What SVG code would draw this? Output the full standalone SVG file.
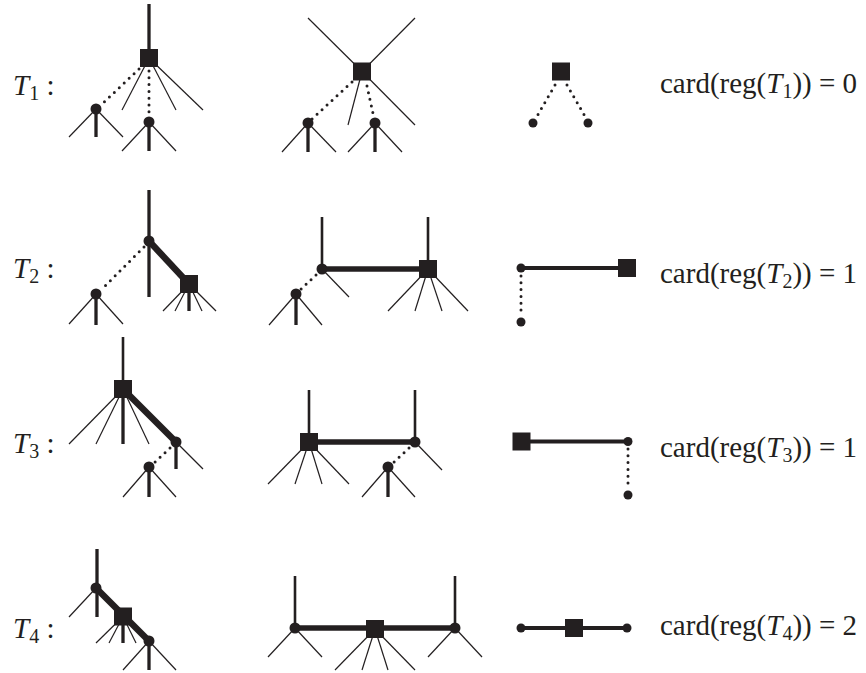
<svg xmlns="http://www.w3.org/2000/svg" width="866" height="673" viewBox="0 0 866 673">
<style>
line{stroke:#231f20;fill:none}
.thin{stroke-width:1.2}
.mid{stroke-width:2.6}
.thick{stroke-width:3.3}
.bar{stroke-width:5.5}
.rbar{stroke-width:4}
.wide{stroke-width:6.5}
.dot{stroke-width:3;stroke-dasharray:0 6.8;stroke-linecap:round}
.n{fill:#231f20}
text{font-family:"Liberation Serif","Times New Roman",serif;font-size:29px;fill:#231f20}
.it{font-style:italic}
.sub{font-size:20px}
</style>
<rect width="866" height="673" fill="#fff"/>
<g id="labels">
<text x="13" y="95"><tspan class="it">T</tspan><tspan class="sub" dy="5">1</tspan><tspan dy="-5"> :</tspan></text>
<text x="13" y="278"><tspan class="it">T</tspan><tspan class="sub" dy="5">2</tspan><tspan dy="-5"> :</tspan></text>
<text x="13" y="453"><tspan class="it">T</tspan><tspan class="sub" dy="5">3</tspan><tspan dy="-5"> :</tspan></text>
<text x="13" y="638"><tspan class="it">T</tspan><tspan class="sub" dy="5">4</tspan><tspan dy="-5"> :</tspan></text>
<text x="660" y="93">card(reg(<tspan class="it">T</tspan><tspan class="sub" dy="5">1</tspan><tspan dy="-5">)) = 0</tspan></text>
<text x="660" y="283">card(reg(<tspan class="it">T</tspan><tspan class="sub" dy="5">2</tspan><tspan dy="-5">)) = 1</tspan></text>
<text x="660" y="457">card(reg(<tspan class="it">T</tspan><tspan class="sub" dy="5">3</tspan><tspan dy="-5">)) = 1</tspan></text>
<text x="660" y="635">card(reg(<tspan class="it">T</tspan><tspan class="sub" dy="5">4</tspan><tspan dy="-5">)) = 2</tspan></text>
</g>
<g id="connectors">
<!-- row 1 left -->
<line class="thick" x1="149" y1="4" x2="149" y2="58"/>
<line class="thin" x1="149" y1="58" x2="122" y2="110"/>
<line class="thin" x1="149" y1="58" x2="176" y2="110"/>
<line class="thin" x1="149" y1="58" x2="203" y2="110"/>
<line class="dot" x1="139" y1="69" x2="100" y2="106"/>
<line class="dot" x1="149" y1="71" x2="149" y2="117"/>
<line class="thin" x1="96" y1="109" x2="69" y2="137"/>
<line class="thin" x1="96" y1="109" x2="123" y2="137"/>
<line class="thick" x1="96" y1="109" x2="96" y2="137"/>
<line class="thin" x1="149" y1="122" x2="122" y2="151"/>
<line class="thin" x1="149" y1="122" x2="176" y2="151"/>
<line class="thick" x1="149" y1="122" x2="149" y2="151"/>
<!-- row 1 middle -->
<line class="thin" x1="308" y1="18" x2="362" y2="71.5"/>
<line class="thin" x1="415" y1="18" x2="362" y2="71.5"/>
<line class="thin" x1="362" y1="71.5" x2="415" y2="125"/>
<line class="thin" x1="362" y1="71.5" x2="348" y2="125"/>
<line class="dot" x1="352" y1="82" x2="312" y2="119"/>
<line class="dot" x1="367" y1="86" x2="374" y2="118"/>
<line class="thin" x1="308" y1="123" x2="282" y2="152"/>
<line class="thin" x1="308" y1="123" x2="336" y2="152"/>
<line class="thick" x1="308" y1="123" x2="308" y2="152"/>
<line class="thin" x1="375" y1="123" x2="348" y2="152"/>
<line class="thin" x1="375" y1="123" x2="402" y2="152"/>
<line class="thick" x1="375" y1="123" x2="375" y2="152"/>
<!-- row 1 right -->
<line class="dot" x1="555" y1="85" x2="536" y2="118"/>
<line class="dot" x1="567" y1="85" x2="586" y2="118"/>
<!-- row 2 left -->
<line class="thick" x1="149" y1="190" x2="149" y2="297"/>
<line class="wide" x1="149" y1="241" x2="189" y2="284"/>
<line class="dot" x1="144" y1="247" x2="101" y2="290"/>
<line class="thin" x1="96" y1="294" x2="69" y2="324"/>
<line class="thin" x1="96" y1="294" x2="123" y2="324"/>
<line class="thick" x1="96" y1="294" x2="96" y2="325"/>
<line class="thin" x1="189" y1="284" x2="163" y2="311"/>
<line class="thin" x1="189" y1="284" x2="175" y2="311"/>
<line class="thin" x1="189" y1="284" x2="202" y2="311"/>
<line class="thin" x1="189" y1="284" x2="216" y2="311"/>
<line class="thick" x1="189" y1="284" x2="189" y2="311"/>
<!-- row 2 middle -->
<line class="mid" x1="322" y1="217" x2="322" y2="269"/>
<line class="mid" x1="428" y1="217" x2="428" y2="269"/>
<line class="bar" x1="322" y1="269" x2="428" y2="269"/>
<line class="thin" x1="322" y1="269" x2="349" y2="297"/>
<line class="dot" x1="316" y1="275" x2="300" y2="290"/>
<line class="thin" x1="296" y1="294" x2="269" y2="325"/>
<line class="thin" x1="296" y1="294" x2="322" y2="325"/>
<line class="thick" x1="296" y1="294" x2="296" y2="325"/>
<line class="thin" x1="428" y1="269" x2="388" y2="311"/>
<line class="thin" x1="428" y1="269" x2="415" y2="311"/>
<line class="thin" x1="428" y1="269" x2="442" y2="311"/>
<line class="thin" x1="428" y1="269" x2="468" y2="311"/>
<!-- row 2 right -->
<line class="rbar" x1="521" y1="268" x2="627" y2="268"/>
<line class="dot" x1="521" y1="276" x2="521" y2="316"/>
<!-- row 3 left -->
<line class="mid" x1="123" y1="337" x2="123" y2="389"/>
<line class="thin" x1="123" y1="389" x2="69" y2="444"/>
<line class="thin" x1="123" y1="389" x2="96" y2="444"/>
<line class="thin" x1="123" y1="389" x2="149" y2="444"/>
<line class="thick" x1="123" y1="389" x2="123" y2="444"/>
<line class="wide" x1="123" y1="389" x2="176" y2="442"/>
<line class="thin" x1="176" y1="442" x2="203" y2="469"/>
<line class="thick" x1="176" y1="442" x2="176" y2="469"/>
<line class="dot" x1="170" y1="448" x2="154" y2="463"/>
<line class="thin" x1="149" y1="467" x2="123" y2="497"/>
<line class="thin" x1="149" y1="467" x2="176" y2="497"/>
<line class="thick" x1="149" y1="467" x2="149" y2="497"/>
<!-- row 3 middle -->
<line class="mid" x1="309" y1="390" x2="309" y2="442"/>
<line class="mid" x1="415" y1="390" x2="415" y2="442"/>
<line class="bar" x1="309" y1="442" x2="415" y2="442"/>
<line class="thin" x1="415" y1="442" x2="442" y2="470"/>
<line class="dot" x1="409" y1="448" x2="393" y2="463"/>
<line class="thin" x1="388" y1="467" x2="362" y2="497"/>
<line class="thin" x1="388" y1="467" x2="415" y2="497"/>
<line class="thick" x1="388" y1="467" x2="388" y2="497"/>
<line class="thin" x1="309" y1="442" x2="268" y2="484"/>
<line class="thin" x1="309" y1="442" x2="295" y2="484"/>
<line class="thin" x1="309" y1="442" x2="322" y2="484"/>
<line class="thin" x1="309" y1="442" x2="349" y2="484"/>
<!-- row 3 right -->
<line class="rbar" x1="521.5" y1="441.5" x2="628" y2="441.5"/>
<line class="dot" x1="628" y1="449" x2="628" y2="489"/>
<!-- row 4 left -->
<line class="thick" x1="97" y1="549" x2="97" y2="617"/>
<line class="thin" x1="96" y1="588" x2="69" y2="617"/>
<line class="wide" x1="96" y1="588" x2="149" y2="641"/>
<line class="thin" x1="123" y1="616.5" x2="96" y2="643"/>
<line class="thin" x1="123" y1="616.5" x2="109" y2="643"/>
<line class="thin" x1="123" y1="616.5" x2="136" y2="643"/>
<line class="thick" x1="123" y1="616.5" x2="123" y2="643"/>
<line class="thin" x1="149" y1="641" x2="123" y2="670"/>
<line class="thin" x1="149" y1="641" x2="176" y2="670"/>
<line class="thick" x1="149" y1="641" x2="149" y2="670"/>
<!-- row 4 middle -->
<line class="mid" x1="295" y1="576" x2="295" y2="628"/>
<line class="mid" x1="455" y1="576" x2="455" y2="628"/>
<line class="bar" x1="295" y1="628" x2="455" y2="628"/>
<line class="thin" x1="295" y1="628" x2="268" y2="657"/>
<line class="thin" x1="295" y1="628" x2="322" y2="657"/>
<line class="thin" x1="455" y1="628" x2="428" y2="657"/>
<line class="thin" x1="455" y1="628" x2="482" y2="657"/>
<line class="thin" x1="375" y1="629" x2="335" y2="670"/>
<line class="thin" x1="375" y1="629" x2="362" y2="670"/>
<line class="thin" x1="375" y1="629" x2="388" y2="670"/>
<line class="thin" x1="375" y1="629" x2="415" y2="670"/>
<!-- row 4 right -->
<line class="rbar" x1="521" y1="628" x2="627" y2="628"/>
</g>
<g id="r1a-sq"><rect class="n" x="140" y="49" width="18" height="18"/></g>
<g id="r1a-c1"><circle class="n" cx="96" cy="109" r="5.5"/></g>
<g id="r1a-c2"><circle class="n" cx="149" cy="122" r="5.5"/></g>
<g id="r1b-sq"><rect class="n" x="353" y="62.5" width="18" height="18"/></g>
<g id="r1b-c1"><circle class="n" cx="308" cy="123" r="5.5"/></g>
<g id="r1b-c2"><circle class="n" cx="375" cy="123" r="5.5"/></g>
<g id="r1c-sq"><rect class="n" x="552" y="62.5" width="18" height="18"/></g>
<g id="r1c-c1"><circle class="n" cx="533" cy="123" r="4.5"/></g>
<g id="r1c-c2"><circle class="n" cx="588" cy="123" r="4.5"/></g>
<g id="r2a-c1"><circle class="n" cx="149" cy="241" r="5.5"/></g>
<g id="r2a-sq"><rect class="n" x="180" y="275" width="18" height="18"/></g>
<g id="r2a-c2"><circle class="n" cx="96" cy="294" r="5.5"/></g>
<g id="r2b-c1"><circle class="n" cx="322" cy="269" r="5.5"/></g>
<g id="r2b-sq"><rect class="n" x="419" y="260" width="18" height="18"/></g>
<g id="r2b-c2"><circle class="n" cx="296" cy="294" r="5.5"/></g>
<g id="r2c-c1"><circle class="n" cx="521" cy="268" r="4.5"/></g>
<g id="r2c-sq"><rect class="n" x="618" y="259" width="18" height="18"/></g>
<g id="r2c-c2"><circle class="n" cx="521" cy="322" r="4.5"/></g>
<g id="r3a-sq"><rect class="n" x="114" y="380" width="18" height="18"/></g>
<g id="r3a-c1"><circle class="n" cx="176" cy="442" r="5.5"/></g>
<g id="r3a-c2"><circle class="n" cx="149" cy="467" r="5.5"/></g>
<g id="r3b-sq"><rect class="n" x="300" y="433" width="18" height="18"/></g>
<g id="r3b-c1"><circle class="n" cx="415" cy="442" r="5.5"/></g>
<g id="r3b-c2"><circle class="n" cx="388" cy="467" r="5.5"/></g>
<g id="r3c-sq"><rect class="n" x="512.5" y="432.5" width="18" height="18"/></g>
<g id="r3c-c1"><circle class="n" cx="628" cy="441.5" r="4.5"/></g>
<g id="r3c-c2"><circle class="n" cx="628" cy="495" r="4.5"/></g>
<g id="r4a-c1"><circle class="n" cx="96" cy="588" r="5.5"/></g>
<g id="r4a-sq"><rect class="n" x="114" y="607.5" width="18" height="18"/></g>
<g id="r4a-c2"><circle class="n" cx="149" cy="641" r="5.5"/></g>
<g id="r4b-c1"><circle class="n" cx="295" cy="628" r="5.5"/></g>
<g id="r4b-sq"><rect class="n" x="366" y="620" width="18" height="18"/></g>
<g id="r4b-c2"><circle class="n" cx="455" cy="628" r="5.5"/></g>
<g id="r4c-c1"><circle class="n" cx="521" cy="628" r="4.5"/></g>
<g id="r4c-sq"><rect class="n" x="565" y="619" width="18" height="18"/></g>
<g id="r4c-c2"><circle class="n" cx="627" cy="628" r="4.5"/></g>
</svg>
